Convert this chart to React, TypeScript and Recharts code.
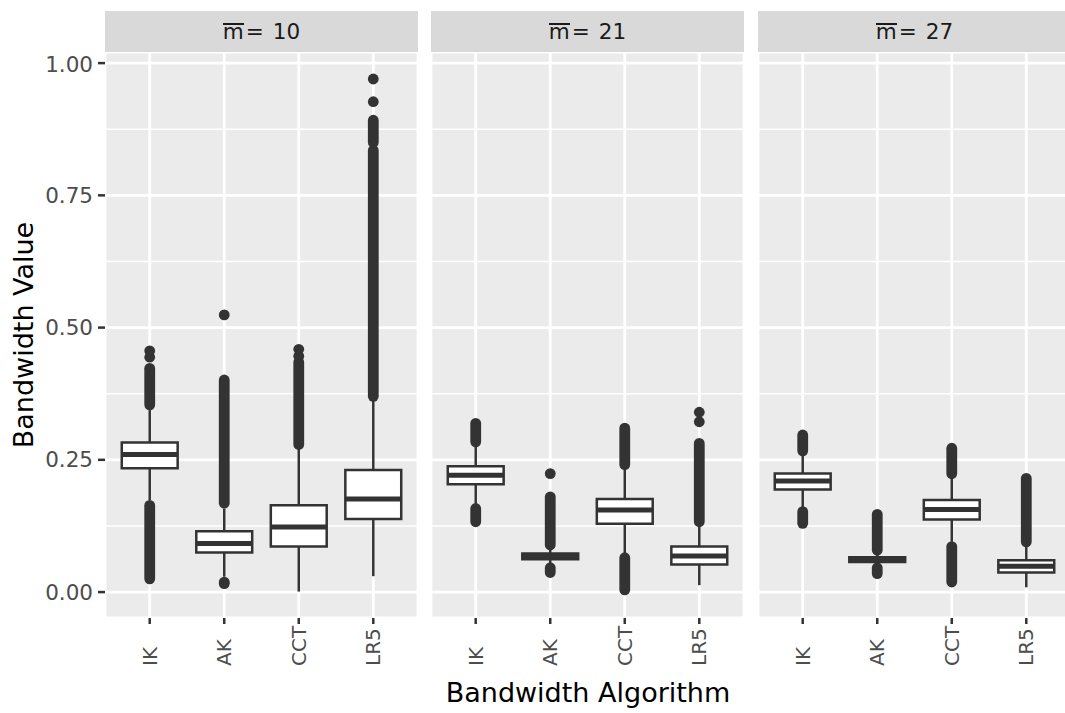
import React from 'react';
import { ComposedChart, XAxis, YAxis, CartesianGrid, ReferenceArea, ReferenceLine, Scatter } from 'recharts';

const algorithms = ['IK', 'AK', 'CCT', 'LR5'];
const facetLabels = ['10', '21', '27'];
const yTicks = [0, 0.25, 0.5, 0.75, 1];
const yMinor = [0.125, 0.375, 0.625, 0.875];

// [algorithm, lower whisker, Q1, median, Q3, upper whisker]
type Stat = [string, number, number, number, number, number];
// dense runs of outliers: [algorithm, from, to]
type Run = [string, number, number];
// single outliers: [algorithm, value]
type Dot = [string, number];

const stats10: Stat[] = [
  ['IK', 0.174, 0.234, 0.26, 0.283, 0.344],
  ['AK', 0.029, 0.075, 0.092, 0.115, 0.158],
  ['CCT', 0.001, 0.086, 0.123, 0.164, 0.272],
  ['LR5', 0.03, 0.138, 0.176, 0.231, 0.362],
];
const runs10: Run[] = [
  ['IK', 0.025, 0.164], ['IK', 0.354, 0.423],
  ['AK', 0.168, 0.401],
  ['CCT', 0.279, 0.435],
  ['LR5', 0.37, 0.835], ['LR5', 0.85, 0.892],
];
const dots10: Dot[] = [
  ['IK', 0.444], ['IK', 0.456],
  ['AK', 0.016], ['AK', 0.019], ['AK', 0.524],
  ['CCT', 0.446], ['CCT', 0.459],
  ['LR5', 0.927], ['LR5', 0.97],
];

const stats21: Stat[] = [
  ['IK', 0.167, 0.204, 0.221, 0.238, 0.276],
  ['AK', 0.054, 0.062, 0.068, 0.073, 0.08],
  ['CCT', 0.072, 0.129, 0.155, 0.176, 0.235],
  ['LR5', 0.013, 0.052, 0.068, 0.086, 0.124],
];
const runs21: Run[] = [
  ['IK', 0.133, 0.158], ['IK', 0.284, 0.319],
  ['AK', 0.037, 0.046], ['AK', 0.089, 0.18],
  ['CCT', 0.004, 0.065], ['CCT', 0.241, 0.31],
  ['LR5', 0.133, 0.281],
];
const dots21: Dot[] = [['AK', 0.224], ['LR5', 0.322], ['LR5', 0.34]];

const stats27: Stat[] = [
  ['IK', 0.158, 0.194, 0.21, 0.224, 0.26],
  ['AK', 0.052, 0.057, 0.062, 0.066, 0.072],
  ['CCT', 0.095, 0.137, 0.156, 0.174, 0.217],
  ['LR5', 0.009, 0.037, 0.049, 0.06, 0.088],
];
const runs27: Run[] = [
  ['IK', 0.13, 0.152], ['IK', 0.267, 0.297],
  ['AK', 0.035, 0.046], ['AK', 0.079, 0.147],
  ['CCT', 0.019, 0.086], ['CCT', 0.224, 0.272],
  ['LR5', 0.095, 0.215],
];
const dots27: Dot[] = [];

const INK = '#333333';
const FONT = '"DejaVu Sans", sans-serif';
const PLOT_TOP = 52;
const PLOT_H = 566;
const PANEL_W = 313;
const HALF = 0.375;

const pos = (alg: string) => algorithms.indexOf(alg) + 1;

const XTick = (props: any) => {
  const { x, y, payload } = props;
  const ty = y + 40;
  return (
    <text x={x} y={ty} dy="0.36em" transform={`rotate(-90 ${x} ${ty})`} textAnchor="start"
      fill="#4D4D4D" fontSize={20} fontFamily={FONT}>
      {algorithms[payload.value - 1]}
    </text>
  );
};

function Panel({ stats, runs, dots, showY, left }: { stats: Stat[]; runs: Run[]; dots: Dot[]; showY: boolean; left: number }) {
  const yW = showY ? 105 : 0;
  const points = dots.map(([a, v]) => ({ x: pos(a), y: v }));
  return (
    <div style={{ position: 'absolute', left: left - yW, top: PLOT_TOP }}>
      <ComposedChart width={PANEL_W + yW} height={PLOT_H + 95} margin={{ top: 0, right: 0, bottom: 0, left: 0 }}>
        <CartesianGrid fill="#EBEBEB" fillOpacity={1} stroke="#FFFFFF" strokeWidth={1.4}
          horizontalValues={yMinor} vertical={false} />
        <CartesianGrid fill="none" stroke="#FFFFFF" strokeWidth={2.8} />
        <XAxis type="number" dataKey="x" domain={[0.4, 4.6]} ticks={[1, 2, 3, 4]} allowDataOverflow
          height={95} axisLine={false} tickSize={6} tickLine={{ stroke: INK, strokeWidth: 2.5 }} tick={<XTick />} />
        <YAxis type="number" dataKey="y" domain={[-0.049, 1.021]} ticks={yTicks} allowDataOverflow
          hide={!showY} width={105} axisLine={false} tickSize={7} tickMargin={5}
          tickLine={{ stroke: INK, strokeWidth: 2.5 }}
          tick={{ fill: '#4D4D4D', fontSize: 21.5, fontFamily: FONT }}
          tickFormatter={(v: number) => v.toFixed(2)} />
        {stats.map(([a, lo, q1]) => (
          <ReferenceLine key={`wl-${a}`} segment={[{ x: pos(a), y: lo }, { x: pos(a), y: q1 }]} stroke={INK} strokeWidth={2.5} />
        ))}
        {stats.map(([a, , , , q3, hi]) => (
          <ReferenceLine key={`wh-${a}`} segment={[{ x: pos(a), y: q3 }, { x: pos(a), y: hi }]} stroke={INK} strokeWidth={2.5} />
        ))}
        {runs.map(([a, from, to], i) => (
          <ReferenceLine key={`run-${i}`} segment={[{ x: pos(a), y: from }, { x: pos(a), y: to }]}
            stroke={INK} strokeWidth={10.8} strokeLinecap="round" />
        ))}
        {stats.map(([a, , q1, , q3]) => (
          <ReferenceArea key={`box-${a}`} x1={pos(a) - HALF} x2={pos(a) + HALF} y1={q1} y2={q3}
            fill="#FFFFFF" fillOpacity={1} stroke={INK} strokeWidth={2.5} ifOverflow="visible" />
        ))}
        {stats.map(([a, , , med]) => (
          <ReferenceLine key={`med-${a}`} segment={[{ x: pos(a) - HALF, y: med }, { x: pos(a) + HALF, y: med }]}
            stroke={INK} strokeWidth={5} />
        ))}
        <Scatter data={points} isAnimationActive={false}
          shape={(p: any) => <circle cx={p.cx} cy={p.cy} r={5.4} fill={INK} />} />
      </ComposedChart>
    </div>
  );
}

const panels = [
  { stats: stats10, runs: runs10, dots: dots10, left: 105 },
  { stats: stats21, runs: runs21, dots: dots21, left: 431 },
  { stats: stats27, runs: runs27, dots: dots27, left: 758 },
];

export default function App() {
  return (
    <div style={{ position: 'absolute', left: 0, top: 0, width: 1065, height: 713, overflow: 'hidden', background: '#FFFFFF', fontFamily: FONT }}>
      {panels.map((p, i) => (
        <div key={`strip-${i}`} style={{
          position: 'absolute', left: p.left, top: 11, width: PANEL_W, height: 41, background: '#D9D9D9',
          display: 'flex', alignItems: 'center', justifyContent: 'center', color: '#1A1A1A', fontSize: 21.5,
        }}>
          <span style={{ position: 'relative' }}>
            m
            <span style={{ position: 'absolute', left: 0, right: 0, top: 3.5, height: 2, background: '#1A1A1A' }} />
          </span>
          <span style={{ marginLeft: 2 }}>=</span>
          <span style={{ marginLeft: 9 }}>{facetLabels[i]}</span>
        </div>
      ))}
      {panels.map((p, i) => (
        <Panel key={`panel-${i}`} stats={p.stats} runs={p.runs} dots={p.dots} showY={i === 0} left={p.left} />
      ))}
      <svg width={1065} height={713} style={{ position: 'absolute', left: 0, top: 0, pointerEvents: 'none' }}>
        <text x={588} y={702} textAnchor="middle" fontSize={27} fontFamily={FONT} fill="#000000">Bandwidth Algorithm</text>
        <text x={-335} y={33} transform="rotate(-90)" textAnchor="middle" fontSize={27} fontFamily={FONT} fill="#000000">Bandwidth Value</text>
      </svg>
    </div>
  );
}
